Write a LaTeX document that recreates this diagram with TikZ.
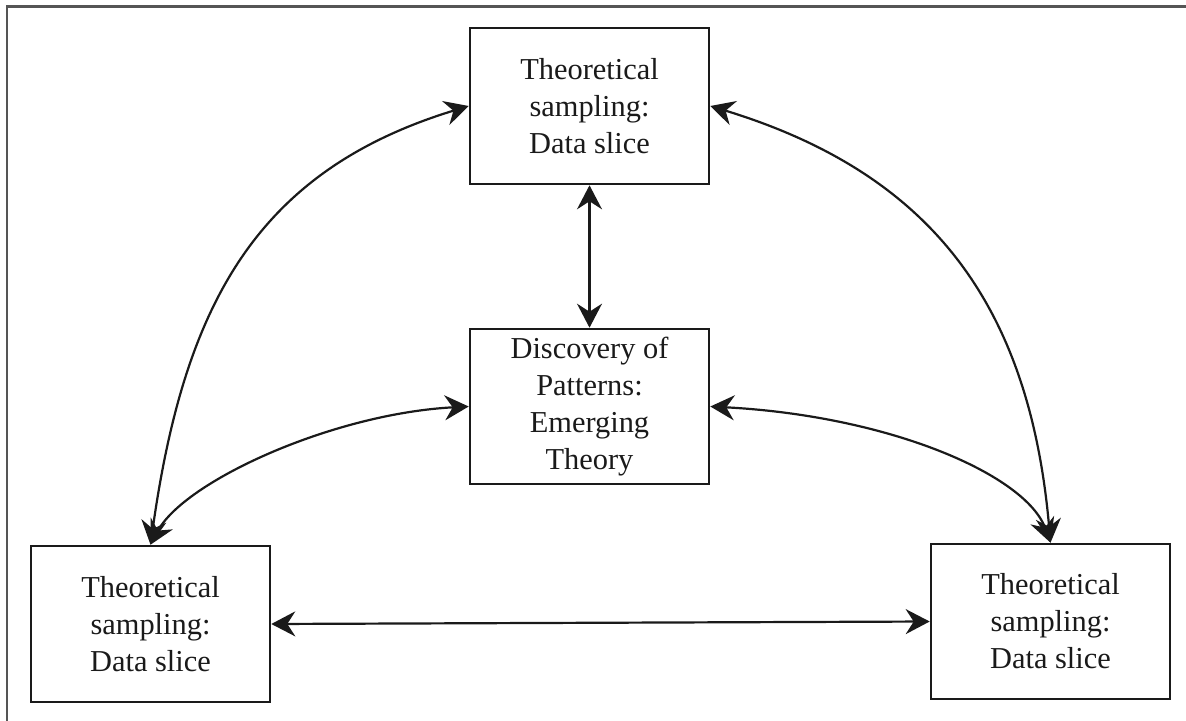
\documentclass[tikz,border=0pt]{standalone}
\usepackage{fontspec}
\setmainfont{Liberation Serif}
\usetikzlibrary{arrows.meta}
\definecolor{ink}{HTML}{1A1A1A}
\definecolor{framegray}{HTML}{555555}
\begin{document}
\begin{tikzpicture}[x=0.5pt,y=-0.5pt,
  stagebox/.style={draw=ink, line width=1.3pt, minimum width=119.5pt,
    minimum height=78pt, inner sep=0pt, align=center, text=ink,
    font=\fontsize{15.2}{18.5}\selectfont},
  link/.style={draw=ink, line width=1.1pt,
    {Stealth[length=12pt,width=12.5pt,inset=4pt]}-{Stealth[length=12pt,width=12.5pt,inset=4pt]}},
]
\useasboundingbox (0,0) rectangle (1186,721);
% open frame along the top and left edges
\draw[framegray, line width=1.1pt] (7,721) -- (7,6.5) -- (1186,6.5);

% the four stages
\node[stagebox] (top) at (589.5,106) {Theoretical\\sampling:\\Data slice};
\node[stagebox, minimum height=77.5pt] (mid) at (589.5,406.5)
  {Discovery of\\Patterns:\\Emerging\\Theory};
\node[stagebox] (bl) at (150.5,624) {Theoretical\\sampling:\\Data slice};
\node[stagebox, minimum height=77.5pt] (br) at (1050.5,621.5)
  {Theoretical\\sampling:\\Data slice};

% two-way links
\draw[link] (top.south) -- (mid.north);
\draw[link] (bl.east) -- (br.west);
\draw[link] (top.west) to[out=197,in=82,out distance=112pt,in distance=120pt] (bl.north);
\draw[link] (top.east) to[out=-17,in=95,out distance=115pt,in distance=120pt] (br.north);
\draw[link] (mid.west) to[out=183,in=62,out distance=68pt,in distance=36pt] (bl.north);
\draw[link] (mid.east) to[out=-3,in=110,out distance=90pt,in distance=36pt] (br.north);
\end{tikzpicture}
\end{document}
